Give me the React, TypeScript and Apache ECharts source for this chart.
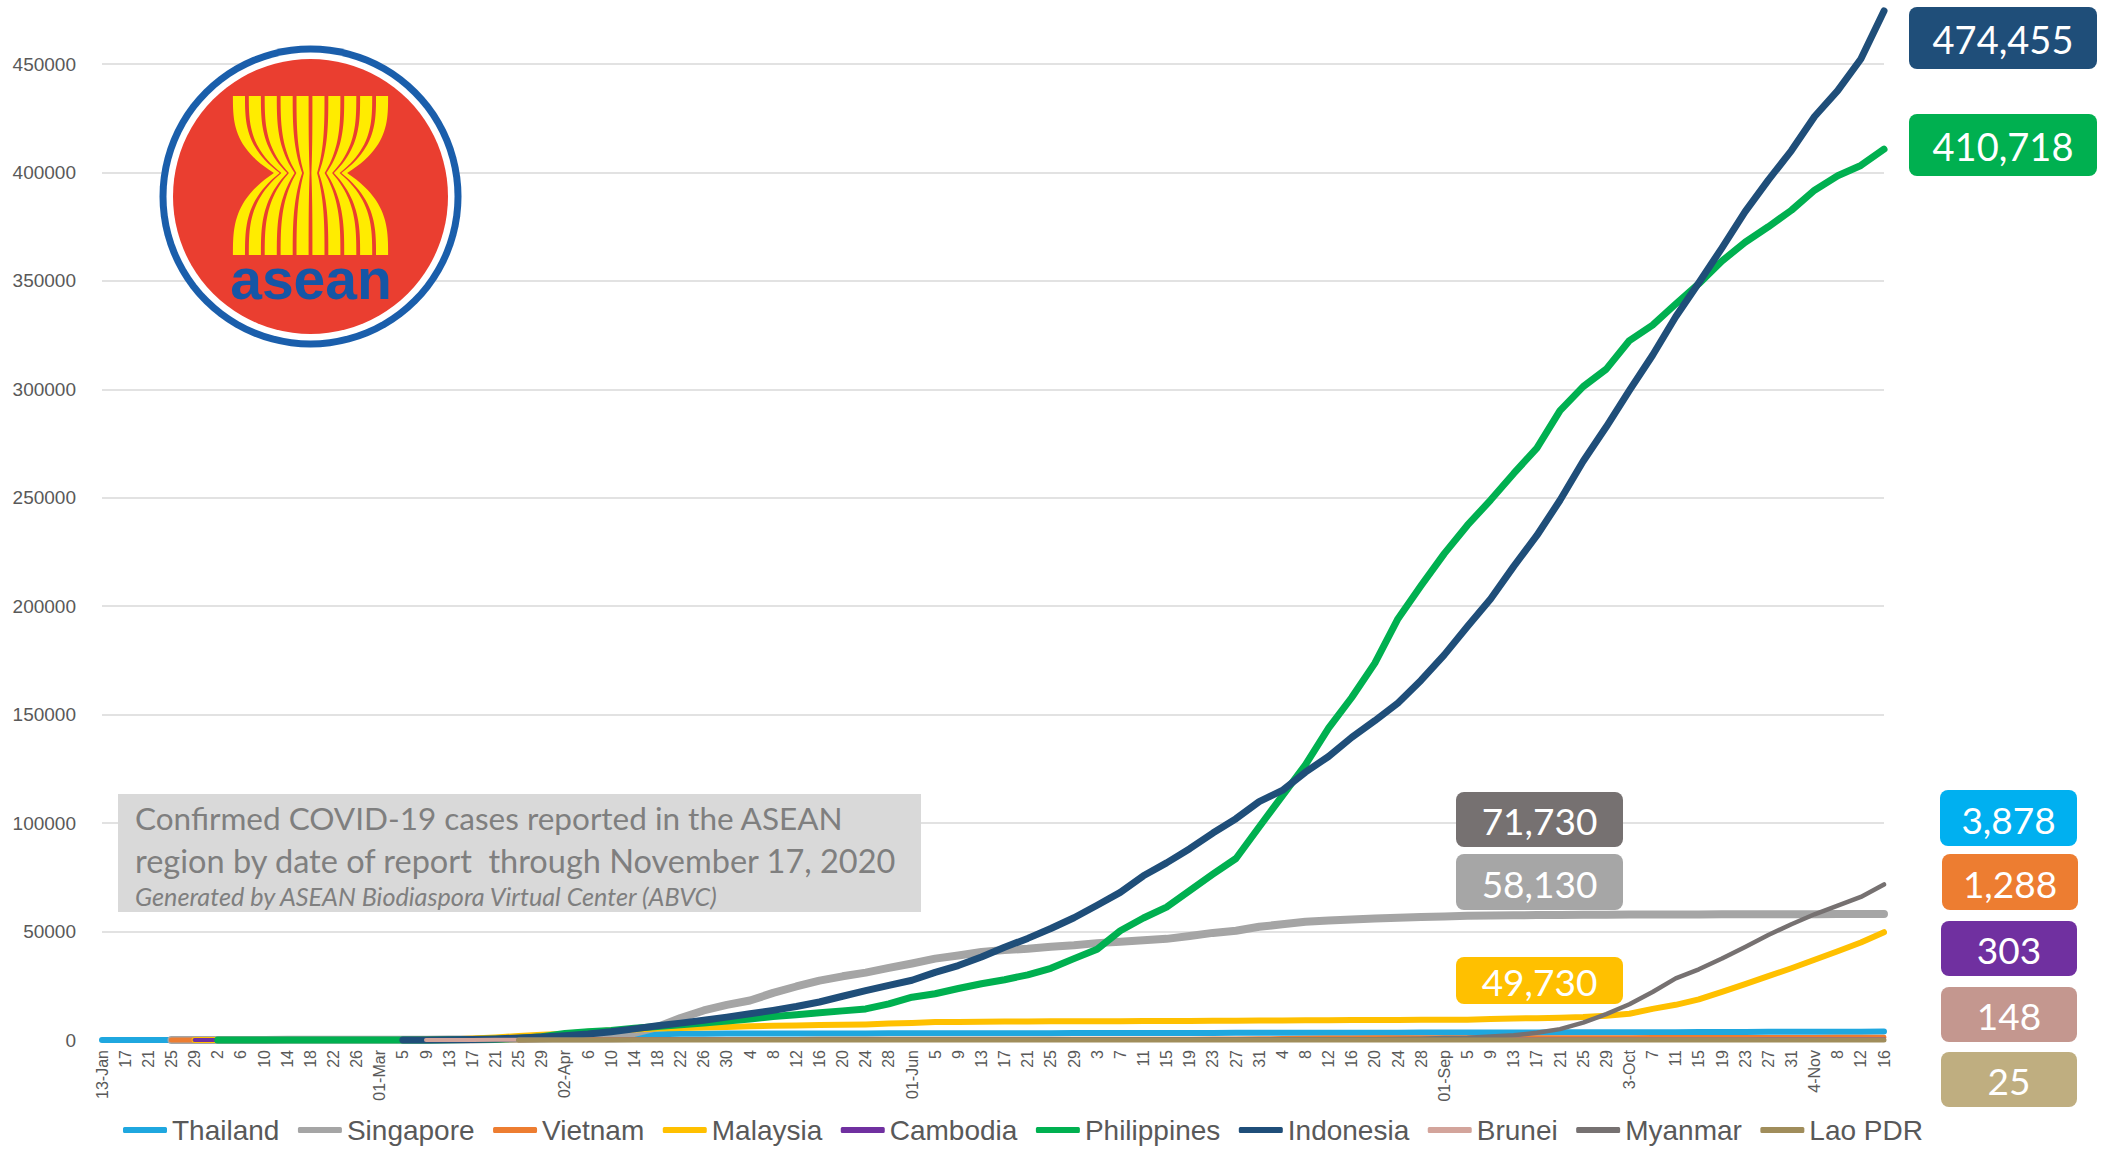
import React, { useEffect, useRef } from "react";
import * as echarts from "echarts";

// ---- x-axis tick labels (every 4 days, 13 Jan -> 16 Nov 2020) ----
const tickLabels = [
  "13-Jan", "17", "21", "25", "29", "2", "6", "10", "14", "18", "22", "26",
  "01-Mar", "5", "9", "13", "17", "21", "25", "29",
  "02-Apr", "6", "10", "14", "18", "22", "26", "30",
  "4", "8", "12", "16", "20", "24", "28",
  "01-Jun", "5", "9", "13", "17", "21", "25", "29",
  "3", "7", "11", "15", "19", "23", "27", "31",
  "4", "8", "12", "16", "20", "24", "28",
  "01-Sep", "5", "9", "13", "17", "21", "25", "29",
  "3-Oct", "7", "11", "15", "19", "23", "27", "31",
  "4-Nov", "8", "12", "16",
];

const yTicks = [0, 50000, 100000, 150000, 200000, 250000, 300000, 350000, 400000, 450000];

// ---- cumulative confirmed cases, one value per tick ----
const thailand = [
  1, 2, 4, 7, 14, 19, 25, 32, 34, 35, 35, 40,
  42, 47, 50, 75, 177, 411, 934, 1388,
  1875, 2220, 2473, 2613, 2700, 2826, 2922, 2954,
  2987, 3000, 3017, 3025, 3034, 3040, 3065,
  3081, 3104, 3119, 3129, 3141, 3151, 3158, 3171,
  3185, 3202, 3217, 3236, 3250, 3261, 3291, 3310,
  3328, 3351, 3359, 3377, 3389, 3397, 3411,
  3417, 3432, 3447, 3480, 3490, 3516, 3530, 3559,
  3590, 3600, 3622, 3669, 3689, 3715, 3759, 3780,
  3794, 3810, 3852, 3878,
];

const singapore = [
  null, null, null, 3, 7, 18, 30, 45, 67, 77, 89, 93,
  106, 117, 150, 200, 266, 432, 631, 844,
  1049, 1375, 2108, 3252, 5992, 10141, 13624, 16169,
  18205, 21707, 24671, 27356, 29364, 31068, 33249,
  35292, 37527, 38965, 40604, 41473, 42095, 42955, 43661,
  44664, 45298, 45961, 46630, 47912, 49375, 50369, 52205,
  53346, 54555, 55104, 55580, 56031, 56353, 56717,
  56948, 57254, 57406, 57514, 57576, 57627, 57700, 57765,
  57812, 57866, 57901, 57915, 57941, 57965, 57980, 57994,
  58029, 58073, 58102, 58130,
];

const vietnam = [
  null, null, null, 2, 2, 6, 12, 14, 16, 16, 16, 16,
  16, 16, 30, 47, 66, 94, 141, 188,
  222, 245, 257, 266, 268, 268, 270, 270,
  271, 288, 288, 314, 324, 325, 327,
  328, 328, 332, 334, 342, 349, 352, 355,
  355, 369, 370, 381, 383, 412, 420, 558,
  652, 789, 866, 966, 994, 1016, 1040,
  1046, 1049, 1060, 1063, 1068, 1069, 1074, 1077,
  1094, 1097, 1107, 1122, 1134, 1148, 1169, 1177,
  1210, 1226, 1253, 1288,
];

const malaysia = [
  null, null, null, null, 7, 8, 12, 18, 19, 22, 22, 22,
  25, 50, 99, 197, 673, 1183, 1796, 2470,
  2908, 3793, 4346, 4817, 5305, 5532, 5780, 6002,
  6298, 6535, 6742, 6872, 6978, 7185, 7619,
  7819, 8247, 8338, 8445, 8529, 8572, 8606, 8639,
  8663, 8677, 8718, 8737, 8779, 8840, 8904, 8976,
  9023, 9070, 9094, 9200, 9235, 9274, 9334,
  9354, 9385, 9632, 9946, 10052, 10219, 10576, 11224,
  12088, 14368, 16220, 18758, 22225, 25742, 29441, 33095,
  37001, 40925, 44975, 49730,
];

const cambodia = [
  null, null, null, null, 1, 1, 1, 1, 1, 1, 1, 1,
  1, 1, 2, 5, 33, 84, 96, 107,
  110, 115, 119, 122, 122, 122, 122, 122,
  122, 122, 122, 122, 122, 124, 125,
  125, 125, 126, 126, 128, 130, 141, 141,
  141, 141, 156, 171, 197, 202, 225, 239,
  243, 245, 250, 266, 273, 273, 274,
  274, 274, 275, 275, 275, 275, 276, 280,
  281, 283, 283, 283, 285, 287, 290, 292,
  294, 299, 302, 303,
];

const philippines = [
  null, null, null, null, null, 2, 3, 3, 3, 3, 3, 3,
  3, 5, 33, 111, 202, 380, 707, 1546,
  3018, 3764, 4428, 5453, 6259, 6981, 7777, 8772,
  9684, 10794, 11618, 12513, 13434, 14319, 16634,
  19748, 21340, 23732, 25930, 27799, 30052, 33069, 37514,
  41830, 50359, 56259, 61266, 68898, 76444, 83673, 98232,
  112593, 126885, 143749, 157918, 173774, 194252, 209544,
  224264, 237365, 248947, 261216, 272934, 290190, 301256, 309303,
  322497, 329637, 339341, 348698, 359169, 367819, 374947, 382576,
  391809, 398449, 403225, 410718,
];

const indonesia = [
  null, null, null, null, null, null, null, null, null, null, null, null,
  null, 4, 27, 96, 227, 514, 893, 1414,
  1986, 2738, 3842, 5136, 6575, 7775, 9096, 10551,
  12071, 13645, 15438, 17514, 20162, 22750, 25216,
  27549, 31186, 34316, 38277, 42762, 46845, 51427, 56385,
  62142, 68079, 75699, 81668, 88214, 95418, 102051, 109936,
  115056, 123503, 130718, 139549, 147211, 155412, 165887,
  177571, 190665, 203342, 218382, 232628, 248852, 266845, 282724,
  299506, 315714, 333449, 349160, 365240, 381910, 396454, 410088,
  425796, 437716, 452291, 474455,
];

const brunei = [
  null, null, null, null, null, null, null, null, null, null, null, null,
  null, null, 1, 25, 56, 88, 109, 120,
  131, 135, 136, 136, 137, 138, 138, 138,
  138, 141, 141, 141, 141, 141, 141,
  141, 141, 141, 141, 141, 141, 141, 141,
  141, 141, 141, 141, 141, 141, 141, 141,
  141, 142, 142, 144, 144, 144, 145,
  145, 145, 145, 145, 145, 146, 146, 146,
  146, 146, 147, 147, 147, 147, 148, 148,
  148, 148, 148, 148,
];

const myanmar = [
  null, null, null, null, null, null, null, null, null, null, null, null,
  null, null, null, null, null, null, 3, 10,
  20, 22, 28, 74, 98, 121, 146, 151,
  161, 177, 180, 182, 199, 201, 206,
  224, 236, 244, 262, 263, 287, 293, 303,
  313, 317, 321, 336, 341, 350, 351, 353,
  357, 360, 368, 374, 401, 474, 608,
  882, 1059, 1635, 2150, 3299, 5020, 7980, 11960,
  16480, 22120, 28400, 32600, 37540, 42920, 48410, 53380,
  57960, 61920, 65980, 71730,
];

const laoPDR = [
  null, null, null, null, null, null, null, null, null, null, null, null,
  null, null, null, null, null, null, 3, 8,
  10, 12, 16, 19, 19, 19, 19, 19,
  19, 19, 19, 19, 19, 19, 19,
  19, 19, 19, 19, 19, 19, 19, 19,
  19, 19, 19, 19, 19, 20, 20, 20,
  20, 21, 22, 22, 22, 22, 22,
  22, 22, 23, 23, 23, 23, 23, 23,
  23, 23, 24, 24, 24, 24, 24, 24,
  24, 24, 25, 25,
];

const countries = ["Thailand", "Singapore", "Vietnam", "Malaysia", "Cambodia", "Philippines", "Indonesia", "Brunei", "Myanmar", "Lao PDR"];
const seriesData = [thailand, singapore, vietnam, malaysia, cambodia, philippines, indonesia, brunei, myanmar, laoPDR];
const lineColors = ["#1FA7DF", "#A5A5A5", "#ED7D31", "#FFC000", "#7030A0", "#00B050", "#1F4E79", "#D3A49B", "#767171", "#A08D5B"];
const lineWidths = [6, 8, 5, 6, 4, 7, 7, 4, 4.5, 5];

// value boxes: which country, box fill
const boxCountries = ["Indonesia", "Philippines", "Myanmar", "Singapore", "Malaysia", "Thailand", "Vietnam", "Cambodia", "Brunei", "Lao PDR"];
const boxFills = ["#1F4E79", "#00B050", "#767171", "#A6A6A6", "#FFC000", "#00B0F0", "#ED7D31", "#7030A0", "#C4978F", "#BFAE80"];
const boxRects = [
  [1909, 7, 188, 62],
  [1909, 114, 188, 62],
  [1456, 792, 167, 55],
  [1456, 854, 167, 56],
  [1456, 957, 167, 47],
  [1940, 790, 137, 56],
  [1942, 854, 136, 56],
  [1941, 921, 136, 55],
  [1941, 987, 136, 55],
  [1941, 1052, 136, 55],
];

function logoElements(): any[] {
  const cx = 310.5;
  const yTop = 96, yPinch = 173, yBot = 255;
  const halfW = (y: number) => {
    const t = y <= yPinch ? (y - yTop) / (yPinch - yTop) : (yBot - y) / (yBot - yPinch);
    return 37.5 + 42 * (1 - t * t * t);
  };
  const ys: number[] = [];
  const n = 24;
  for (let k = 0; k <= n; k++) ys.push(yTop + ((yPinch - yTop) * k) / n);
  for (let k = 1; k <= n; k++) ys.push(yPinch + ((yBot - yPinch) * k) / n);
  const els: any[] = [
    { type: "circle", z: 100, shape: { cx: 310.5, cy: 196.5, r: 151 }, style: { fill: "#1A5EAB" } },
    { type: "circle", z: 101, shape: { cx: 310.5, cy: 196.5, r: 144 }, style: { fill: "#FFFFFF" } },
    { type: "circle", z: 102, shape: { cx: 310.5, cy: 196.5, r: 137.5 }, style: { fill: "#EA3E30" } },
  ];
  for (let i = 0; i < 10; i++) {
    const f0 = i / 10 + 0.012;
    const f1 = (i + 1) / 10 - 0.012;
    const left = ys.map((y) => [cx + (2 * f0 - 1) * halfW(y), y]);
    const right = ys.map((y) => [cx + (2 * f1 - 1) * halfW(y), y]).reverse();
    els.push({ type: "polygon", z: 103, shape: { points: left.concat(right) }, style: { fill: "#FFEC00" } });
  }
  els.push({
    type: "text", z: 104,
    style: { text: "asean", x: 311, y: 279, fill: "#1556A6", font: 'bold 57px "Liberation Sans", Arial, sans-serif', textAlign: "center", textVerticalAlign: "middle", align: "center", verticalAlign: "middle" },
  });
  return els;
}

function titleElements(): any[] {
  const font = '"Lato", "Open Sans", sans-serif';
  return [
    { type: "rect", z: 100, shape: { x: 118, y: 794, width: 803, height: 118 }, style: { fill: "#D9D9D9" } },
    { type: "text", z: 101, style: { text: "Confirmed COVID-19 cases reported in the ASEAN", x: 135, y: 818, fill: "#7F7F7F", font: `31.5px ${font}`, textVerticalAlign: "middle", verticalAlign: "middle" } },
    { type: "text", z: 101, style: { text: "region by date of report\u00A0 through November 17, 2020", x: 135, y: 860, fill: "#7F7F7F", font: `32.5px ${font}`, textVerticalAlign: "middle", verticalAlign: "middle" } },
    { type: "text", z: 101, style: { text: "Generated by ASEAN Biodiaspora Virtual Center (ABVC)", x: 135, y: 896, fill: "#7F7F7F", font: `italic 25.2px ${font}`, textVerticalAlign: "middle", verticalAlign: "middle" } },
  ];
}

function boxElements(): any[] {
  const els: any[] = [];
  boxCountries.forEach((c, i) => {
    const data = seriesData[countries.indexOf(c)];
    const last = data[data.length - 1] as number;
    const [x, y, w, h] = boxRects[i];
    els.push({ type: "rect", z: 110, shape: { x, y, width: w, height: h, r: 8 }, style: { fill: boxFills[i] } });
    els.push({
      type: "text", z: 111,
      style: {
        text: last.toLocaleString("en-US"), x: x + w / 2, y: y + h / 2 + 1, fill: "#FFFFFF",
        font: `${i < 2 ? 38 : 37}px "Lato", "Open Sans", sans-serif`,
        textAlign: "center", textVerticalAlign: "middle", align: "center", verticalAlign: "middle",
      },
    });
  });
  return els;
}

export default function App() {
  const ref = useRef<HTMLDivElement>(null);
  useEffect(() => {
    const el = ref.current;
    if (!el) return;
    const chart = echarts.init(el, undefined, { renderer: "svg" });
    const option: any = {
      animation: false,
      backgroundColor: "#FFFFFF",
      grid: { left: 102, right: 218, top: 64, bottom: 112, containLabel: false },
      legend: {
        data: countries,
        left: 118,
        top: 1111,
        icon: "roundRect",
        itemWidth: 44,
        itemHeight: 6,
        itemGap: 18.5,
        textStyle: { color: "#595959", fontSize: 28, fontFamily: '"Liberation Sans", Arial, sans-serif' },
      },
      xAxis: {
        type: "category",
        data: tickLabels,
        boundaryGap: false,
        axisTick: { show: false },
        axisLine: { show: true, lineStyle: { color: "#D9D9D9", width: 1.5 } },
        axisLabel: { interval: 0, rotate: 90, fontSize: 16, color: "#595959", fontFamily: '"Liberation Sans", Arial, sans-serif', margin: 10 },
        splitLine: { show: false },
      },
      yAxis: {
        type: "value",
        min: yTicks[0],
        max: yTicks[yTicks.length - 1],
        interval: yTicks[1] - yTicks[0],
        axisLine: { show: false },
        axisTick: { show: false },
        axisLabel: { fontSize: 19, color: "#595959", fontFamily: '"Liberation Sans", Arial, sans-serif', margin: 26, formatter: (v: number) => String(v) },
        splitLine: { lineStyle: { color: "#D9D9D9", width: 1.5 } },
      },
      series: countries.map((name, i) => ({
        name,
        type: "line",
        data: seriesData[i],
        showSymbol: false,
        symbol: "none",
        clip: false,
        connectNulls: false,
        z: 2 + i,
        lineStyle: { color: lineColors[i], width: lineWidths[i], cap: "round", join: "round" },
        itemStyle: { color: lineColors[i] },
      })),
      graphic: { elements: [...logoElements(), ...titleElements(), ...boxElements()] },
    };
    chart.setOption(option);
    return () => chart.dispose();
  }, []);
  return <div ref={ref} style={{ position: "fixed", left: 0, top: 0, width: 2102, height: 1152, background: "#fff" }} />;
}
